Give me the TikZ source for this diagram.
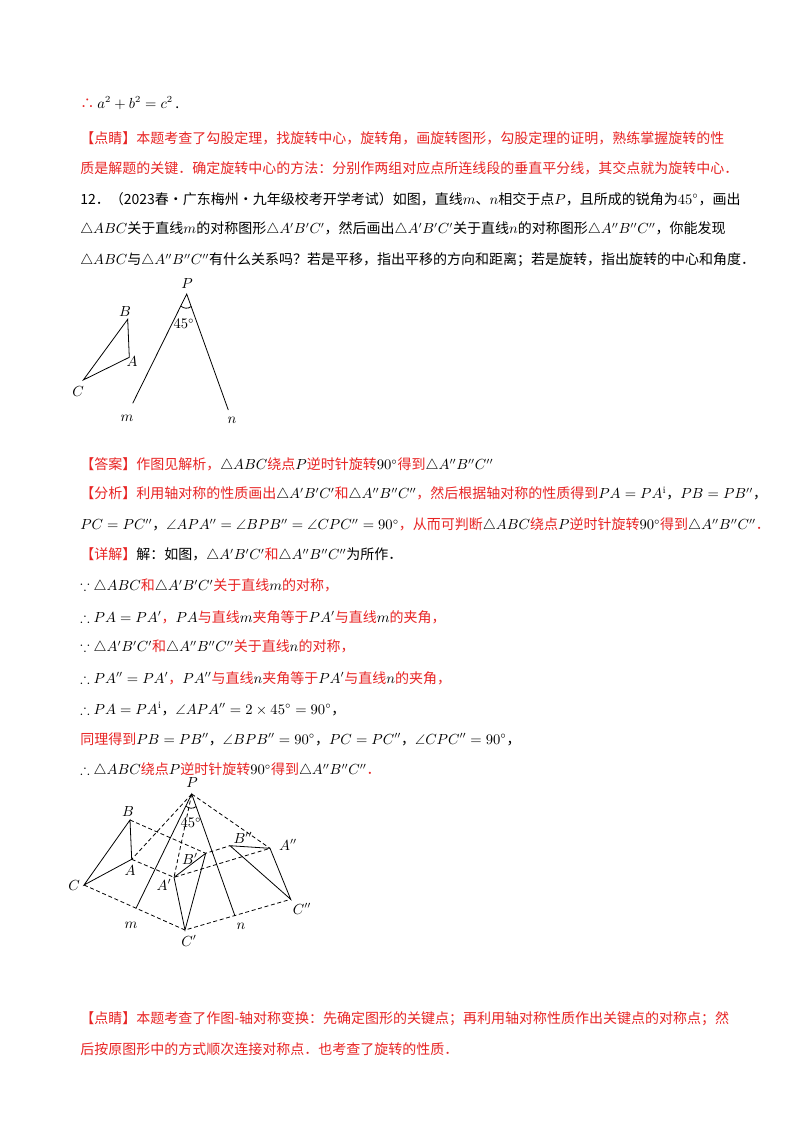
\documentclass[tikz,border=0pt]{standalone}
\usepackage{amssymb}
\usepackage{fontspec}
\usetikzlibrary{calc}
\newfontfamily\cjk{Noto Sans CJK SC}
\definecolor{rd}{RGB}{232,36,36}
\newcommand{\rd}[1]{{\color{rd}#1}}
\begin{document}
\begin{tikzpicture}[x=0.75pt,y=-0.75pt,
  tl/.style={anchor=west,inner sep=0pt,font=\cjk\fontsize{10.5}{12}\selectfont},
  lb/.style={inner sep=0pt,font=\fontsize{10.5}{12}\selectfont},
  ln/.style={line width=0.6pt},
  dl/.style={line width=0.6pt,dash pattern=on 3pt off 2pt}]
\useasboundingbox[fill=white] (0,0) rectangle (800,1132);
\node[tl] (t1) at (80,103) {\rd{∴} $a^2+b^2=c^2$\,.};
\node[tl] (t2) at (80,138) {\rd{【点睛】本题考查了勾股定理，找旋转中心，旋转角，画旋转图形，勾股定理的证明，熟练掌握旋转的性}};
\node[tl] (t3) at (80,168) {\rd{质是解题的关键．确定旋转中心的方法：分别作两组对应点所连线段的垂直平分线，其交点就为旋转中心．}};
\node[tl] (t4) at (80,199) {12．（2023春·广东梅州·九年级校考开学考试）如图，直线$m$、$n$相交于点$P$，且所成的锐角为$45^\circ$，画出};
\node[tl] (t5) at (80,229) {$\triangle ABC$关于直线$m$的对称图形$\triangle A'B'C'$，然后画出$\triangle A'B'C'$关于直线$n$的对称图形$\triangle A''B''C''$，你能发现};
\node[tl] (t6) at (80,260) {$\triangle ABC$与$\triangle A''B''C''$有什么关系吗？若是平移，指出平移的方向和距离；若是旋转，指出旋转的中心和角度．};
% figure 1
\coordinate (B1) at (127.7,319.3); \coordinate (A1) at (129.3,357.3); \coordinate (C1) at (83.3,380);
\coordinate (P1) at (186.7,294); \coordinate (m1) at (132.7,403.3); \coordinate (n1) at (228.3,410);
\draw[ln] (B1)--(A1)--(C1)--cycle;
\draw[ln] (m1)--(P1)--(n1);
\draw[ln] ($(P1)!10pt!(m1)$) to[bend right=40] ($(P1)!10pt!(n1)$);
\node[lb] (lB1) at (125,312) {$B$}; \node[lb] (lA1) at (132,362) {$A$};
\node[lb] (lC1) at (78,392) {$C$}; \node[lb] (lP1) at (187,284) {$P$};
\node[lb] (l451) at (184,324) {$45^\circ$};
\node[lb] (lm1) at (127,418) {$m$}; \node[lb] (ln1) at (232,420) {$n$};
\node[tl] (t7) at (80,465) {\rd{【答案】作图见解析，}$\triangle ABC$\rd{绕点}$P$\rd{逆时针旋转}$90^\circ$\rd{得到}$\triangle A''B''C''$};
\node[tl] (t8) at (80,494) {\rd{【分析】利用轴对称的性质画出}$\triangle A'B'C'$\rd{和}$\triangle A''B''C''$\rd{，然后根据轴对称的性质得到}$PA=PA^{\mathrm{i}}$，$PB=PB''$，};
\node[tl] (t9) at (80,525) {$PC=PC''$，$\angle APA''=\angle BPB''=\angle CPC''=90^\circ$\rd{，从而可判断}$\triangle ABC$\rd{绕点}$P$\rd{逆时针旋转}$90^\circ$\rd{得到}$\triangle A''B''C''$\rd{．}};
\node[tl] (t10) at (80,555) {\rd{【详解】}解：如图，$\triangle A'B'C'$\rd{和}$\triangle A''B''C''$为所作．};
\node[tl] (t11) at (80,586) {$\because\triangle ABC$\rd{和}$\triangle A'B'C'$\rd{关于直线}$m$\rd{的对称，}};
\node[tl] (t12) at (80,617) {$\therefore PA=PA'$\rd{，}$PA$\rd{与直线}$m$\rd{夹角等于}$PA'$\rd{与直线}$m$\rd{的夹角，}};
\node[tl] (t13) at (80,647) {$\because\triangle A'B'C'$\rd{和}$\triangle A''B''C''$\rd{关于直线}$n$\rd{的对称，}};
\node[tl] (t14) at (80,678) {$\therefore PA''=PA'$\rd{，}$PA''$\rd{与直线}$n$\rd{夹角等于}$PA'$\rd{与直线}$n$\rd{的夹角，}};
\node[tl] (t15) at (80,709) {$\therefore PA=PA^{\mathrm{i}}$，$\angle APA''=2\times45^\circ=90^\circ$，};
\node[tl] (t16) at (80,739) {\rd{同理得到}$PB=PB''$，$\angle BPB''=90^\circ$，$PC=PC''$，$\angle CPC''=90^\circ$，};
\node[tl] (t17) at (80,770) {$\therefore\triangle ABC$\rd{绕点}$P$\rd{逆时针旋转}$90^\circ$\rd{得到}$\triangle A''B''C''$\rd{．}};
% figure 2
\coordinate (P) at (191.7,794);
\coordinate (B) at (130,820); \coordinate (A) at (131.7,859.3); \coordinate (C) at (84,885);
\coordinate (A') at (174,877.3); \coordinate (B') at (205.7,853.3); \coordinate (C') at (185,930);
\coordinate (B'') at (230,845.7); \coordinate (A'') at (270,848.3); \coordinate (C'') at (290.7,899.3);
\coordinate (m) at (136,908.3); \coordinate (n) at (235,916);
\draw[ln] (A)--(B)--(C)--cycle;
\draw[ln] (A')--(B')--(C')--cycle;
\draw[ln] (A'')--(B'')--(C'')--cycle;
\draw[ln] (m)--(P)--(n);
\draw[dl] (P)--(A) (P)--(A') (P)--(A'') (A)--(A')--(A'') (B)--(B')--(B'') (C)--(C')--(C'');
\draw[ln] ($(P)!10pt!(m)$) to[bend right=40] ($(P)!10pt!(n)$);
\node[lb] (lP) at (192,783) {$P$}; \node[lb] (l45) at (191,823) {$45^\circ$};
\node[lb] (lB) at (128,812) {$B$}; \node[lb] (lA) at (130,870) {$A$}; \node[lb] (lC) at (74,885) {$C$};
\node[lb] (lA') at (164,885) {$A'$}; \node[lb] (lB') at (190,859) {$B'$}; \node[lb] (lC') at (189,941) {$C'$};
\node[lb] (lB'') at (243,838) {$B''$}; \node[lb] (lA'') at (288,845) {$A''$}; \node[lb] (lC'') at (302,909) {$C''$};
\node[lb] (lm) at (131,925) {$m$}; \node[lb] (ln) at (241,926) {$n$};
\node[tl] (t18) at (80,1019) {\rd{【点睛】本题考查了作图-轴对称变换：先确定图形的关键点；再利用轴对称性质作出关键点的对称点；然}};
\node[tl] (t19) at (80,1049) {\rd{后按原图形中的方式顺次连接对称点．也考查了旋转的性质．}};
\end{tikzpicture}
\end{document}
